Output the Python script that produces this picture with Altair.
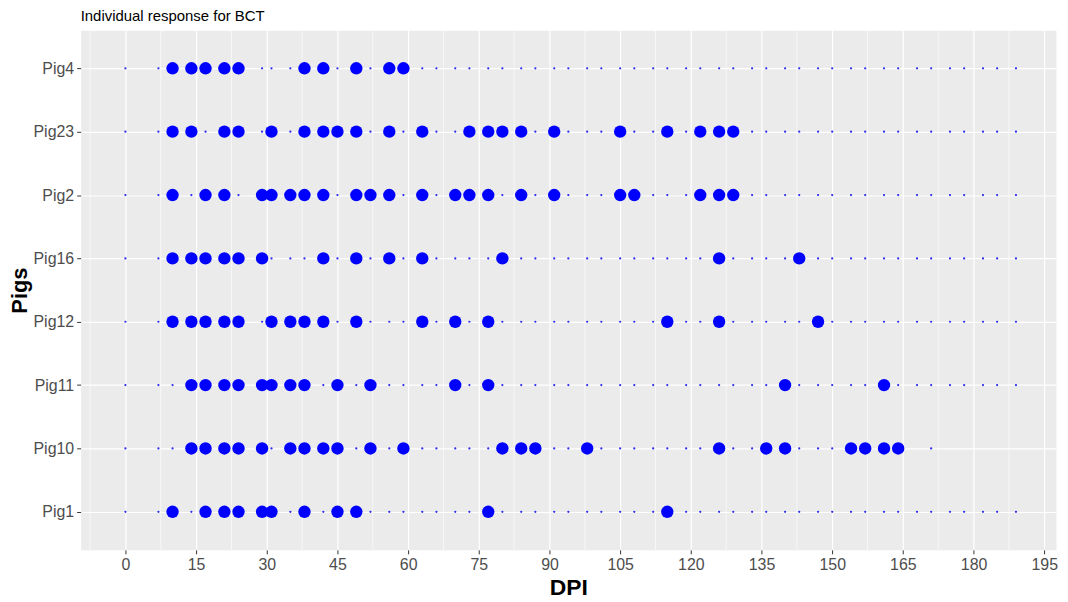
import altair as alt
import pandas as pd

# ---------------- data ----------------
pig_order = ["Pig4", "Pig23", "Pig2", "Pig16", "Pig12", "Pig11", "Pig10", "Pig1"]

sample_days_all = [0, 7, 10, 14, 17, 21, 24, 29, 31, 35, 38, 42, 45, 49, 52, 56, 59,
                   63, 66, 70, 73, 77, 80, 84, 87, 91, 94, 98, 101, 105, 108, 112,
                   115, 119, 122, 126, 129, 133, 136, 140, 143, 147, 150, 154, 157,
                   161, 164, 168, 171, 175, 178, 182, 185, 189]
sample_days_pig10 = [0, 7, 10, 14, 17, 21, 24, 29, 31, 35, 38, 42, 45, 49, 52, 56, 59,
                     63, 66, 70, 73, 77, 80, 84, 87, 91, 94, 98, 101, 105, 108, 112,
                     115, 119, 122, 126, 129, 133, 136, 140, 143, 147, 150, 154, 157,
                     161, 164, 171]

pos_pig4 = [10, 14, 17, 21, 24, 38, 42, 49, 56, 59]
pos_pig23 = [10, 14, 21, 24, 31, 38, 42, 45, 49, 56, 63, 73, 77, 80, 84, 91, 105, 115, 122, 126, 129]
pos_pig2 = [10, 17, 21, 29, 31, 35, 38, 42, 49, 52, 56, 63, 70, 73, 77, 84, 91, 105, 108, 122, 126, 129]
pos_pig16 = [10, 14, 17, 21, 24, 29, 42, 49, 56, 63, 80, 126, 143]
pos_pig12 = [10, 14, 17, 21, 24, 31, 35, 38, 42, 49, 63, 70, 77, 115, 126, 147]
pos_pig11 = [14, 17, 21, 24, 29, 31, 35, 38, 45, 52, 70, 77, 140, 161]
pos_pig10 = [14, 17, 21, 24, 29, 35, 38, 42, 45, 52, 59, 80, 84, 87, 98, 126, 136, 140, 154, 157, 161, 164]
pos_pig1 = [10, 17, 21, 24, 29, 31, 38, 45, 49, 77, 115]

x_ticks = [0, 15, 30, 45, 60, 75, 90, 105, 120, 135, 150, 165, 180, 195]
x_minor = [-7.5, 7.5, 22.5, 37.5, 52.5, 67.5, 82.5, 97.5, 112.5, 127.5, 142.5,
           157.5, 172.5, 187.5]

chart_title = "Individual response for BCT"

positives = {"Pig4": pos_pig4, "Pig23": pos_pig23, "Pig2": pos_pig2, "Pig16": pos_pig16,
             "Pig12": pos_pig12, "Pig11": pos_pig11, "Pig10": pos_pig10, "Pig1": pos_pig1}
samples = {p: (sample_days_pig10 if p == "Pig10" else sample_days_all) for p in pig_order}

df_s = pd.DataFrame([{"pig": p, "day": d} for p in pig_order for d in samples[p]])
df_p = pd.DataFrame([{"pig": p, "day": d} for p in pig_order for d in positives[p]])
df_minor = pd.DataFrame({"day": x_minor})

FONT = "Liberation Sans"
xscale = alt.Scale(domain=[-9.5, 197.5], nice=False, zero=False)
yscale = alt.Scale(type="point", domain=pig_order, padding=0.6)

minor = alt.Chart(df_minor).mark_rule(color="white", strokeWidth=0.6).encode(
    x=alt.X("day:Q", scale=xscale,
            axis=alt.Axis(values=x_ticks, title="DPI", grid=True, gridColor="white",
                          gridWidth=1.2, domain=False, ticks=True, tickColor="#333333",
                          tickSize=4, labelFontSize=16, labelColor="#4D4D4D",
                          labelFont=FONT, labelPadding=3, titleFont=FONT,
                          titleFontSize=23, titleFontWeight="bold", titleColor="black",
                          titlePadding=4)),
)

small = alt.Chart(df_s).mark_circle(color="#2a2af0", size=5, opacity=1).encode(
    x=alt.X("day:Q", scale=xscale),
    y=alt.Y("pig:N", scale=yscale, sort=pig_order,
            axis=alt.Axis(title="Pigs", grid=True, gridColor="white", gridWidth=1.2,
                          domain=False, ticks=True, tickColor="#333333", tickSize=4,
                          labelFontSize=16, labelColor="#4D4D4D", labelFont=FONT,
                          labelPadding=3, titleFont=FONT, titleFontSize=22,
                          titleFontWeight="bold", titleColor="black", titlePadding=1)),
)

big = alt.Chart(df_p).mark_circle(color="#0000FF", size=155, opacity=1).encode(
    x=alt.X("day:Q", scale=xscale),
    y=alt.Y("pig:N", scale=yscale, sort=pig_order),
)

title_txt = alt.Chart(pd.DataFrame({"t": [chart_title]})).mark_text(
    align="left", baseline="alphabetic", fontSize=15, font=FONT, color="black"
).encode(x=alt.value(0), y=alt.value(-9), text="t:N")

chart = alt.layer(minor, small, big, title_txt).properties(
    width=980,
    height=522,
    autosize=alt.AutoSizeParams(type="none"),
    padding={"left": 73, "top": 21, "right": 4, "bottom": 50},
).configure(background="white").configure_view(fill="#EBEBEB", stroke="transparent")

chart.save("out.html", embed_options={"renderer": "svg", "actions": False})
